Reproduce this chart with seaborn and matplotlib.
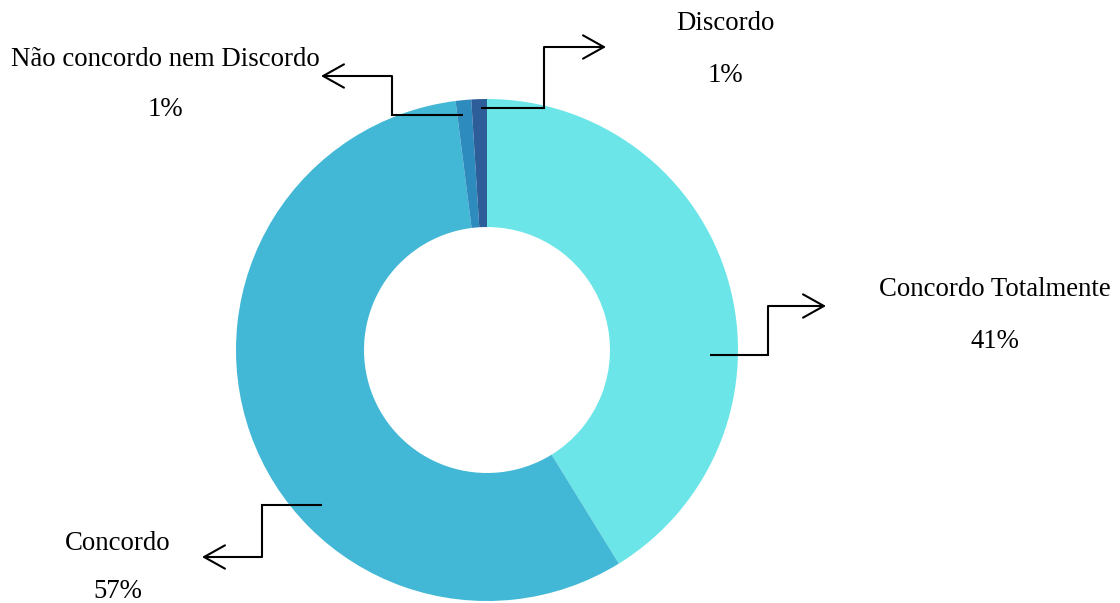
import matplotlib
matplotlib.use("Agg")
import matplotlib.pyplot as plt
import seaborn as sns

categories = ["Concordo Totalmente", "Concordo", "Não concordo nem Discordo", "Discordo"]
values = [41.2, 56.8, 1.0, 1.0]
pct_labels = ["41%", "57%", "1%", "1%"]
colors = ["#6BE5E8", "#42B7D6", "#2E8BBD", "#2D5E99"]

sns.set_theme(style="white")
plt.rcParams['font.family'] = ['Liberation Serif', 'DejaVu Serif']

W, H = 1120, 603
fig = plt.figure(figsize=(W / 100, H / 100), dpi=100)
ax = fig.add_axes([0, 0, 1, 1])

cx, cy, R = 487, H - 350, 251
ax.pie(values, colors=colors, startangle=90, counterclock=False,
       center=(cx, cy), radius=R, frame=True,
       wedgeprops=dict(width=R * 0.51, edgecolor="none", linewidth=0))
ax.set_xlim(0, W)
ax.set_ylim(0, H)
ax.set_aspect("equal")
ax.axis("off")

def y(v):
    return H - v

# connectors: (path points in pixel coords y-down), arrow tip, label center, pct center
connectors = [
    ([(710, 355), (768, 355), (768, 306)], (826, 306), (995, 290), (995, 342)),
    ([(322, 505), (262, 505), (262, 557)], (202, 557), (118, 544), (118, 591)),
    ([(463, 115), (392, 115), (392, 76)], (321, 76), (165, 59), (165, 110)),
    ([(481, 108), (544, 108), (544, 47)], (606, 47), (725, 24), (725, 76)),
]

for (pts, tip, lab, pc), name, pct in zip(connectors, categories, pct_labels):
    xs = [p[0] for p in pts]
    ys = [y(p[1]) for p in pts]
    ax.plot(xs, ys, color="black", lw=1.5, solid_capstyle="butt", solid_joinstyle="miter")
    ax.annotate("", xy=(tip[0], y(tip[1])), xytext=(pts[-1][0], y(pts[-1][1])),
                arrowprops=dict(arrowstyle="->,head_length=1.25,head_width=0.7",
                                color="black", lw=1.5, shrinkA=0, shrinkB=0))
    ax.text(lab[0], y(lab[1]), name, ha="center", va="center", fontsize=19.3, color="black")
    ax.text(pc[0], y(pc[1]), pct, ha="center", va="center", fontsize=19.3, color="black")

fig.savefig("out.png", dpi=100)
